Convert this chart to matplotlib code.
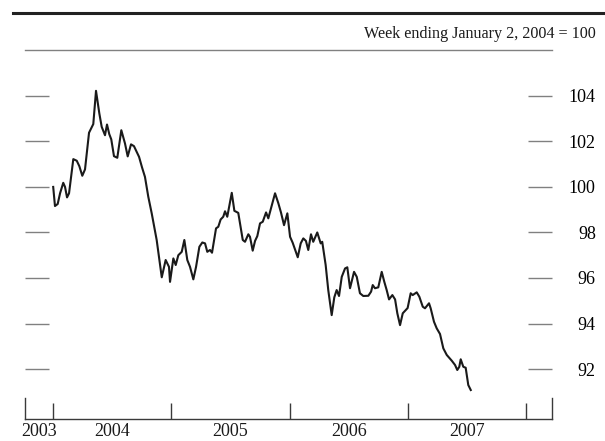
import matplotlib
matplotlib.use("Agg")
import matplotlib.pyplot as plt
from matplotlib.lines import Line2D

# weekly index, week ending Jan 2, 2004 = 100 (dates as decimal years)
weeks = [2004.000, 2004.015, 2004.038, 2004.058, 2004.085, 2004.100, 2004.117, 2004.134,
         2004.170, 2004.199, 2004.221, 2004.246, 2004.269, 2004.303, 2004.339, 2004.362,
         2004.390, 2004.410, 2004.438, 2004.455, 2004.474, 2004.491, 2004.514, 2004.542,
         2004.576, 2004.607, 2004.630, 2004.658, 2004.683, 2004.706, 2004.726, 2004.751,
         2004.776, 2004.804, 2004.833, 2004.875, 2004.918, 2004.951, 2004.979, 2004.988,
         2005.016, 2005.036, 2005.058, 2005.087, 2005.109, 2005.134, 2005.157, 2005.185,
         2005.208, 2005.236, 2005.261, 2005.284, 2005.303, 2005.326, 2005.343, 2005.377,
         2005.396, 2005.416, 2005.438, 2005.453, 2005.472, 2005.510, 2005.532, 2005.565,
         2005.603, 2005.622, 2005.650, 2005.664, 2005.687, 2005.707, 2005.726, 2005.749,
         2005.772, 2005.800, 2005.819, 2005.876, 2005.904, 2005.926, 2005.952, 2005.980,
         2006.003, 2006.025, 2006.068, 2006.093, 2006.115, 2006.137, 2006.157, 2006.180,
         2006.199, 2006.233, 2006.262, 2006.275, 2006.304, 2006.326, 2006.355, 2006.377,
         2006.397, 2006.417, 2006.440, 2006.468, 2006.487, 2006.510, 2006.544, 2006.567,
         2006.594, 2006.622, 2006.665, 2006.688, 2006.702, 2006.721, 2006.749, 2006.778,
         2006.800, 2006.820, 2006.840, 2006.868, 2006.891, 2006.910, 2006.933, 2006.956,
         2006.997, 2007.023, 2007.040, 2007.074, 2007.096, 2007.125, 2007.144, 2007.178,
         2007.192, 2007.220, 2007.243, 2007.271, 2007.299, 2007.328, 2007.370, 2007.398,
         2007.417, 2007.434, 2007.446, 2007.468, 2007.488, 2007.510, 2007.531]
index = [100.00, 99.16, 99.25, 99.72, 100.18, 100.00, 99.54, 99.72,
         101.22, 101.15, 100.91, 100.49, 100.77, 102.38, 102.76, 104.22,
         103.23, 102.64, 102.27, 102.74, 102.32, 102.09, 101.35, 101.28,
         102.49, 101.91, 101.34, 101.87, 101.79, 101.54, 101.32, 100.86,
         100.44, 99.57, 98.84, 97.67, 96.03, 96.79, 96.49, 95.83,
         96.86, 96.57, 97.00, 97.15, 97.67, 96.79, 96.49, 95.94,
         96.49, 97.37, 97.56, 97.52, 97.15, 97.23, 97.11, 98.18,
         98.25, 98.57, 98.69, 98.93, 98.69, 99.74, 98.95, 98.86,
         97.67, 97.59, 97.92, 97.81, 97.20, 97.63, 97.84, 98.40,
         98.47, 98.88, 98.62, 99.72, 99.28, 98.88, 98.32, 98.84,
         97.81, 97.55, 96.91, 97.52, 97.74, 97.63, 97.23, 97.92,
         97.59, 98.00, 97.52, 97.59, 96.57, 95.47, 94.37, 95.15,
         95.47, 95.21, 96.05, 96.42, 96.47, 95.55, 96.27, 96.05,
         95.33, 95.21, 95.22, 95.40, 95.69, 95.55, 95.59, 96.27,
         95.83, 95.47, 95.06, 95.25, 95.06, 94.45, 93.93, 94.45,
         94.68, 95.33, 95.25, 95.37, 95.18, 94.74, 94.67, 94.89,
         94.67, 94.08, 93.79, 93.54, 92.91, 92.62, 92.37, 92.18,
         91.96, 92.10, 92.43, 92.10, 92.06, 91.30, 91.08]

y_ticks = [92, 94, 96, 98, 100, 102, 104]
year_edges = [2004, 2005, 2006, 2007, 2008]
year_labels = ["2003", "2004", "2005", "2006", "2007"]
note = "Week ending January 2, 2004 = 100"

x_lo, x_hi = 2003.765, 2008.218
y_lo, y_hi = 89.81, 106.02

plt.rcParams["font.family"] = "Liberation Serif"

fig = plt.figure(figsize=(6.05, 4.41), dpi=100)
ax = fig.add_axes([0.042, 0.050, 0.8704, 0.837])

ax.plot(weeks, index, color="#1a1a1a", lw=1.5, solid_joinstyle="round")
ax.set_xlim(x_lo, x_hi)
ax.set_ylim(y_lo, y_hi)

# frame: gray rule on top, axis line at bottom, short end posts at the sides
ax.spines["top"].set_color("#808080")
ax.spines["top"].set_linewidth(1.0)
ax.spines["bottom"].set_color("#3a3a3a")
ax.spines["bottom"].set_linewidth(1.0)
for side in ("left", "right"):
    ax.spines[side].set_color("#3a3a3a")
    ax.spines[side].set_linewidth(1.0)
    ax.spines[side].set_bounds(y_lo, y_lo + 0.9)

# y ticks drawn as inward dashes on both sides, labels on the right only
ax.set_yticks(y_ticks)
ax.yaxis.set_ticks_position("both")
ax.tick_params(axis="y", which="major", direction="in", length=17, width=1.0,
               color="#808080", left=True, right=True, labelleft=False,
               labelright=True, labelsize=13, pad=31.5)
for lab in ax.get_yticklabels():
    lab.set_horizontalalignment("right")

# year boundaries as ticks, year names centered between them
ax.set_xticks(year_edges)
ax.set_xticklabels([])
ax.tick_params(axis="x", which="major", direction="in", length=11.5, width=1.0,
               color="#3a3a3a")
label_pos = [(x_lo + year_edges[0]) / 2] + [e + 0.5 for e in year_edges[:-1]]
ax.set_xticks(label_pos, minor=True)
ax.set_xticklabels(year_labels, minor=True)
ax.tick_params(axis="x", which="minor", length=0, labelsize=13, pad=3,
               labelcolor="#1a1a1a")

# heavy rule across the top and the base note
fig.add_artist(Line2D([13 / 605, 1.0], [1 - 12.5 / 441] * 2, color="#222222",
                      lw=2.2, transform=fig.transFigure))
fig.text(596 / 605, 1 - 37.7 / 441, note, ha="right", va="baseline",
         fontsize=11.6, color="#1a1a1a")

fig.savefig("out.png", dpi=100)
